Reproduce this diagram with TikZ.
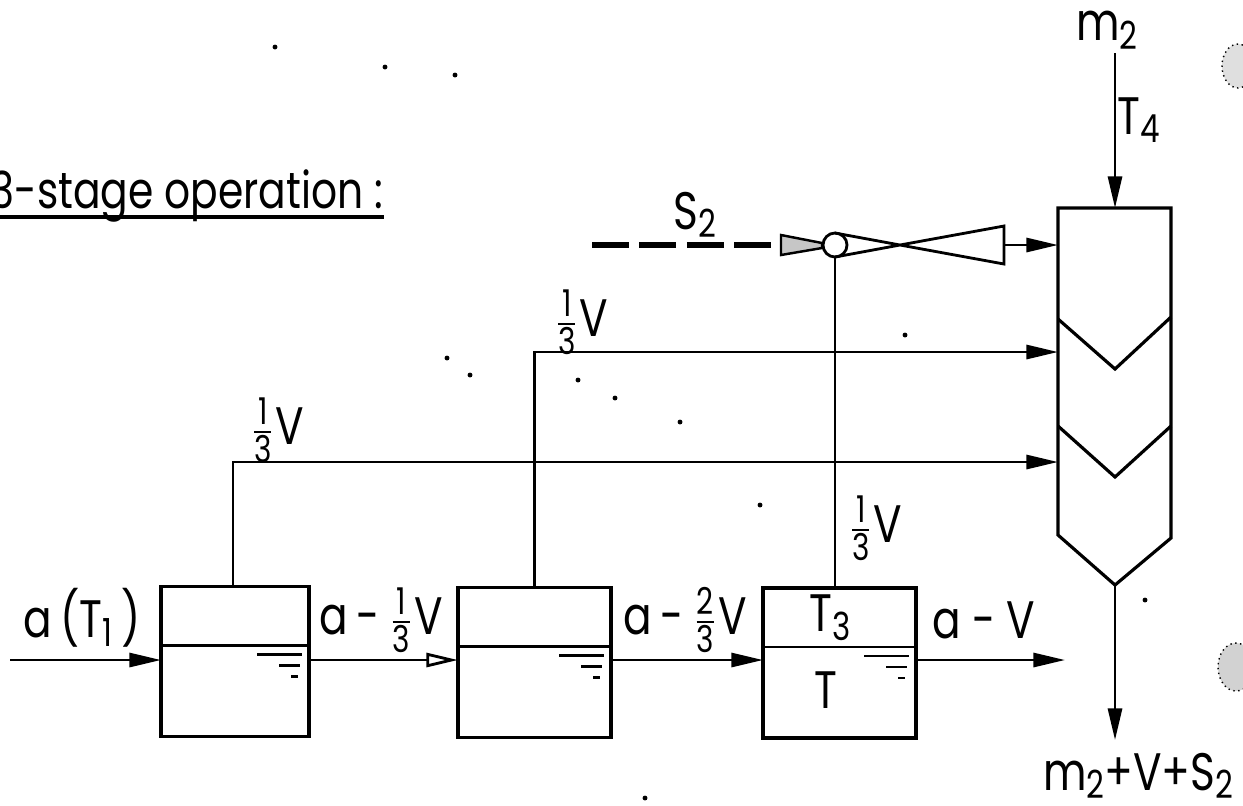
\documentclass[tikz,border=0pt]{standalone}
\usepackage{amsmath, fontspec}
\setmainfont[FakeStretch=0.8]{Poppins}
\usetikzlibrary{arrows.meta}
\tikzset{>={Triangle[length=9pt,width=4pt]}}
\tikzset{tank/.style={draw,line width=0.9pt,minimum width=1.5cm,minimum height=1.5cm,inner sep=0pt,outer sep=0pt},
lbl/.style={inner sep=0pt,font=\fontsize{15}{18}\selectfont},
flow/.style={line width=0.8pt}}
\newcommand{\third}[1]{$\frac{\text{#1}}{\text{3}}$}
\newcommand{\lowered}[1]{\raisebox{-0.3ex}{\fontsize{11}{12}\selectfont #1}}

\begin{document}
\begin{tikzpicture}[x=0.01cm,y=-0.01cm]
\useasboundingbox (0,0) rectangle (1243,805);
% tanks
\node[tank,minimum width=1.48cm] (tankA) at (235,661.5) {};
\node[tank,minimum width=1.53cm] (tankB) at (534.5,662.5) {};
\node[tank,minimum width=1.53cm] (tankC) at (839.5,663) {};
\foreach \t in {tankA,tankB,tankC} {
\draw[line width=0.7pt] ([yshift=-0.59cm]\t.north west) -- ([yshift=-0.59cm]\t.north east);
\draw[line width=0.8pt] ([xshift=-0.52cm,yshift=-0.68cm]\t.north east) -- ([xshift=-0.07cm,yshift=-0.68cm]\t.north east);
\draw[line width=0.8pt] ([xshift=-0.3cm,yshift=-0.79cm]\t.north east) -- ([xshift=-0.09cm,yshift=-0.79cm]\t.north east);
\draw[line width=0.8pt] ([xshift=-0.18cm,yshift=-0.9cm]\t.north east) -- ([xshift=-0.11cm,yshift=-0.9cm]\t.north east);
}
% column
\coordinate (colTop) at (1115,208);
\coordinate (colBot) at (1115,585);
\coordinate (colS) at (1058,245);
\coordinate (colB) at (1058,352);
\coordinate (colA) at (1058,462);
\draw[line width=0.9pt] (1058,208) -- (1171,208) -- (1171,538) -- (colBot) -- (1058,535) -- cycle;
\draw[line width=0.9pt] (1058,319) -- (1115,369) -- (1171,317);
\draw[line width=0.9pt] (1058,426) -- (1115,477) -- (1171,426);
% ejector
\node[draw,circle,line width=0.8pt,minimum size=0.24cm,inner sep=0pt,outer sep=0pt] (mix) at (835,245) {};
\coordinate (throat) at (900,245);
\draw[line width=0.8pt] (835,233) -- (throat) -- (1004,226) -- (1004,264) -- (throat) -- (835,257);
\draw[line width=0.7pt,fill=gray!45] (781,235) -- (822,243) -- (822,248) -- (781,255) -- cycle;
% streams
\coordinate (steam) at (592,245);
\coordinate (nozzle) at (781,245);
\coordinate (ejOut) at (1004,245);
\draw[line width=1.5pt,dash pattern=on 10.5pt off 3pt] (steam) -- (nozzle);
\draw[->,flow] (ejOut) -- (colS);
\draw[flow] (mix.south) -- (mix.south |- tankC.north);
\draw[->,flow] (tankB.north) |- (colB);
\draw[->,flow] ([xshift=-0.02cm]tankA.north) |- (colA);
\coordinate (feed) at (10,660);
\coordinate (drain) at (1065,660);
\draw[->,flow] (feed) -- (tankA.west |- feed);
\draw[-{Triangle[open,length=9pt,width=4pt]},flow] (tankA.east |- feed) -- (tankB.west |- feed);
\draw[->,flow] (tankB.east |- feed) -- (tankC.west |- feed);
\draw[->,flow] (tankC.east |- feed) -- (drain);
\coordinate (mIn) at (1115,53);
\coordinate (mOut) at (1115,740);
\draw[->,flow] (mIn) -- (colTop);
\draw[->,flow] (colBot) -- (mOut);
% labels
\node[lbl,anchor=base west,font=\fontsize{14.5}{18}\selectfont] (title) at (-10,208) {3-stage operation :};
\draw[line width=1pt] ([yshift=-0.09cm]title.base west) -- ([yshift=-0.09cm]title.base east);
\node[lbl] (lblM) at (1107,30) {m\lowered{2}};
\node[lbl] (lblTf) at (1139,120) {T\lowered{4}};
\node[lbl] (lblS) at (695,215) {S\lowered{2}};
\node[lbl] (lblVb) at (581,322) {\third{1}V};
\node[lbl] (lblVa) at (277,430) {\third{1}V};
\node[lbl] (lblVc) at (875,528) {\third{1}V};
\node[lbl] (lblFeed) at (82,618) {a\,(T\lowered{1}\,)};
\node[lbl] (lblOne) at (381,620) {a\,-\,\third{1}V};
\node[lbl] (lblTwo) at (685,620) {a\,-\,\third{2}V};
\node[lbl] (lblOut) at (984,620) {a - V};
\node[lbl] (lblTt) at (830,618) {T\lowered{3}};
\node[lbl] (lblT) at (826,690) {T};
\node[lbl] (lblOutM) at (1138,776) {m\lowered{2}+V+S\lowered{2}};
% spots on the sheet
\draw[densely dotted,fill=gray!25] (1238,66) ellipse (16 and 22);
\draw[densely dotted,fill=gray!35] (1236,667) ellipse (18 and 24);
\foreach \x/\y in {275/47,385/67,455/75,447/358,470/375,578/380,615/398,680/422,760/505,905/335,645/798,1145/600}
\fill (\x,\y) circle (0.7pt);
\end{tikzpicture}
\end{document}
